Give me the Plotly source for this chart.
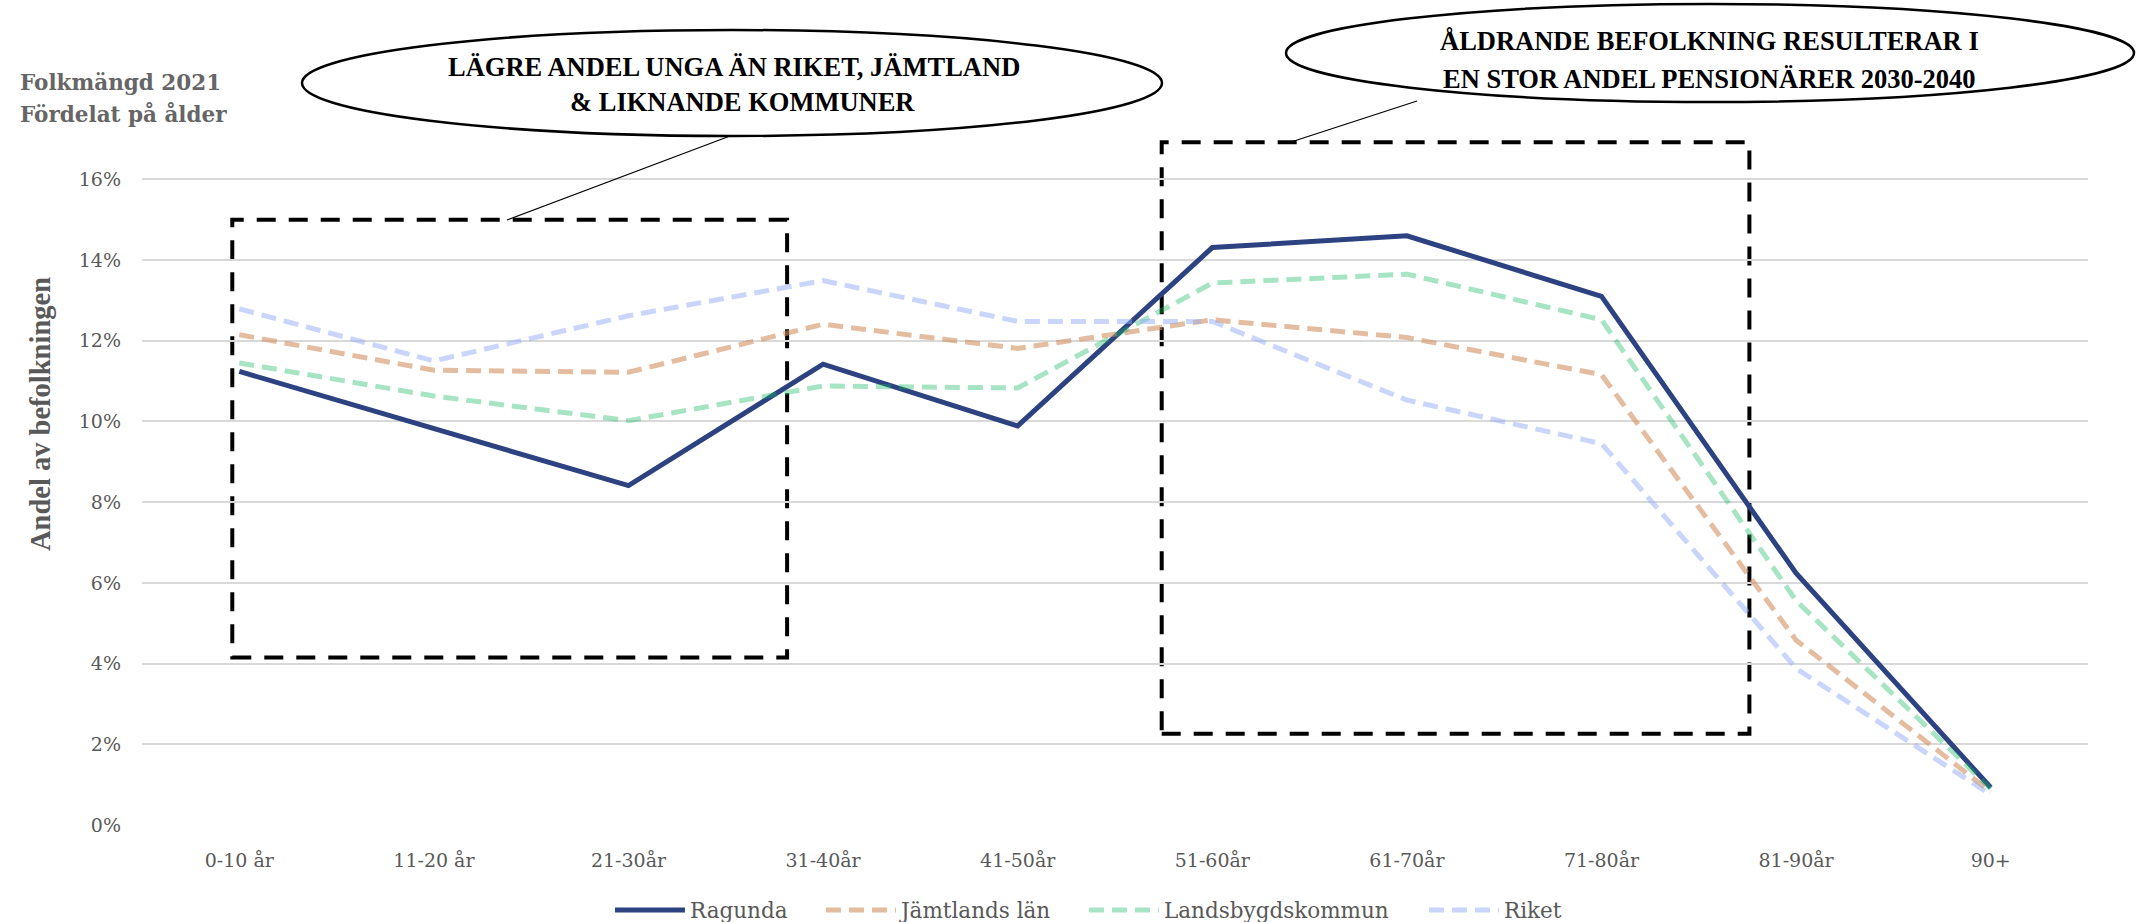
import plotly.graph_objects as go

categories = ["0-10 år", "11-20 år", "21-30år", "31-40år", "41-50år",
              "51-60år", "61-70år", "71-80år", "81-90år", "90+"]
ragunda = [11.24, 9.83, 8.41, 11.42, 9.89, 14.31, 14.60, 13.10, 6.24, 0.93]
jamtlands_lan = [12.15, 11.27, 11.22, 12.41, 11.81, 12.52, 12.08, 11.16, 4.58, 0.82]
landsbygdskommun = [11.45, 10.63, 10.02, 10.88, 10.83, 13.43, 13.65, 12.52, 5.56, 0.90]
riket = [12.79, 11.50, 12.62, 13.49, 12.48, 12.48, 10.53, 9.45, 3.88, 0.75]

series_names = ["Ragunda", "Jämtlands län", "Landsbygdskommun", "Riket"]
tick_values = [0, 0.02, 0.04, 0.06, 0.08, 0.10, 0.12, 0.14, 0.16]

# figure / plot-area geometry (pixels)
FW, FH = 2136, 922
L, R, T, B = 142, 2088, 139, 825
W, H = R - L, B - T


def px(xp):
    return (xp - L) / W


def py(yp):
    return (B - yp) / H


fig = go.Figure()
styles = [
    dict(color="#2C4281", width=5),
    dict(color="rgba(210,143,97,0.6)", width=5, dash="15px,8px"),
    dict(color="rgba(21,184,97,0.38)", width=5, dash="15px,8px"),
    dict(color="rgba(150,172,250,0.5)", width=5, dash="15px,8px"),
]
legend_ids = ["legend", "legend2", "legend3", "legend4"]
legend_x = [616, 827, 1090, 1430]
for name, vals, st, lg in zip(series_names, [ragunda, jamtlands_lan, landsbygdskommun, riket],
                              styles, legend_ids):
    fig.add_trace(go.Scatter(x=categories, y=[v / 100 for v in vals], name=name,
                             mode="lines", line=st, legend=lg, hoverinfo="x+y+name"))

tick_font = dict(family="DejaVu Serif", size=19, color="#595959")
title_font = "Liberation Serif"
legend_font = dict(family="DejaVu Serif", size=21.5, color="#595959")

layout_legends = {}
for lg, xs in zip(legend_ids, legend_x):
    layout_legends[lg] = dict(orientation="h", x=px(xs - 6), xanchor="left", y=py(910),
                              yanchor="middle", font=legend_font, itemwidth=70,
                              bgcolor="rgba(0,0,0,0)")

fig.update_layout(
    width=FW, height=FH,
    margin=dict(l=L, r=FW - R, t=T, b=FH - B, autoexpand=False),
    plot_bgcolor="white", paper_bgcolor="white",
    showlegend=True,
    xaxis=dict(type="category", range=[-0.5, 9.5], showgrid=False, showline=False, zeroline=False,
               tickfont=tick_font, ticks="", ticklabelstandoff=22, automargin=False),
    yaxis=dict(range=[0, 0.17], tickvals=tick_values, tickformat=".0%", showgrid=True,
               gridcolor="#D9D9D9", gridwidth=2, zeroline=False, showline=False,
               tickfont=tick_font, ticks="", ticklabelstandoff=20, automargin=False),
    **layout_legends,
)

# dashed highlight boxes (data-anchored)
box_line = dict(color="black", width=4, dash="19px,13px")
fig.add_shape(type="rect", xref="x", yref="y", x0=-0.036, x1=2.815, y0=0.0415, y1=0.150,
              line=box_line, layer="below")
fig.add_shape(type="rect", xref="x", yref="y", x0=4.74, x1=7.76, y0=0.0226, y1=0.1692,
              line=box_line, layer="below")

# callout ellipses and tails
ell_line = dict(color="black", width=2.5)
fig.add_shape(type="circle", xref="paper", yref="paper", x0=px(302), x1=px(1162),
              y0=py(136), y1=py(30), line=ell_line, fillcolor="white", layer="above")
fig.add_shape(type="circle", xref="paper", yref="paper", x0=px(1286), x1=px(2134),
              y0=py(102), y1=py(4), line=ell_line, fillcolor="white", layer="above")
fig.add_shape(type="line", xref="paper", yref="paper", x0=px(507), y0=py(220), x1=px(730), y1=py(136),
              line=dict(color="black", width=1.3))
fig.add_shape(type="line", xref="paper", yref="paper", x0=px(1291), y0=py(142), x1=px(1417), y1=py(101),
              line=dict(color="black", width=1.3))

callout_font = dict(family=title_font, size=26.5, color="black")
for text, xc, yc in [
    ("<b>LÄGRE ANDEL UNGA ÄN RIKET, JÄMTLAND</b>", 734, 67),
    ("<b>&amp; LIKNANDE KOMMUNER</b>", 742, 102),
    ("<b>ÅLDRANDE BEFOLKNING RESULTERAR I</b>", 1709, 41),
    ("<b>EN STOR ANDEL PENSIONÄRER 2030-2040</b>", 1709, 79),
]:
    fig.add_annotation(text=text, xref="paper", yref="paper", x=px(xc), y=py(yc),
                       xanchor="center", yanchor="middle", showarrow=False, font=callout_font)

# chart title (top-left)
head_font = dict(family="DejaVu Serif", size=21.5, color="#666666")
fig.add_annotation(text="<b>Folkmängd 2021</b>", xref="paper", yref="paper", x=px(18), y=py(82),
                   xanchor="left", yanchor="middle", showarrow=False, font=head_font)
fig.add_annotation(text="<b>Fördelat på ålder</b>", xref="paper", yref="paper", x=px(18), y=py(114),
                   xanchor="left", yanchor="middle", showarrow=False, font=head_font)

# y-axis title
fig.add_annotation(text="<b>Andel av befolkningen</b>", xref="paper", yref="paper", x=px(40), y=py(414),
                   xanchor="center", yanchor="middle", textangle=-90, showarrow=False,
                   font=dict(family=title_font, size=28.5, color="#595959"))

fig.write_html("out.html", config={"displayModeBar": False},
               post_script="document.body.style.margin='0';document.body.style.overflow='hidden';")
